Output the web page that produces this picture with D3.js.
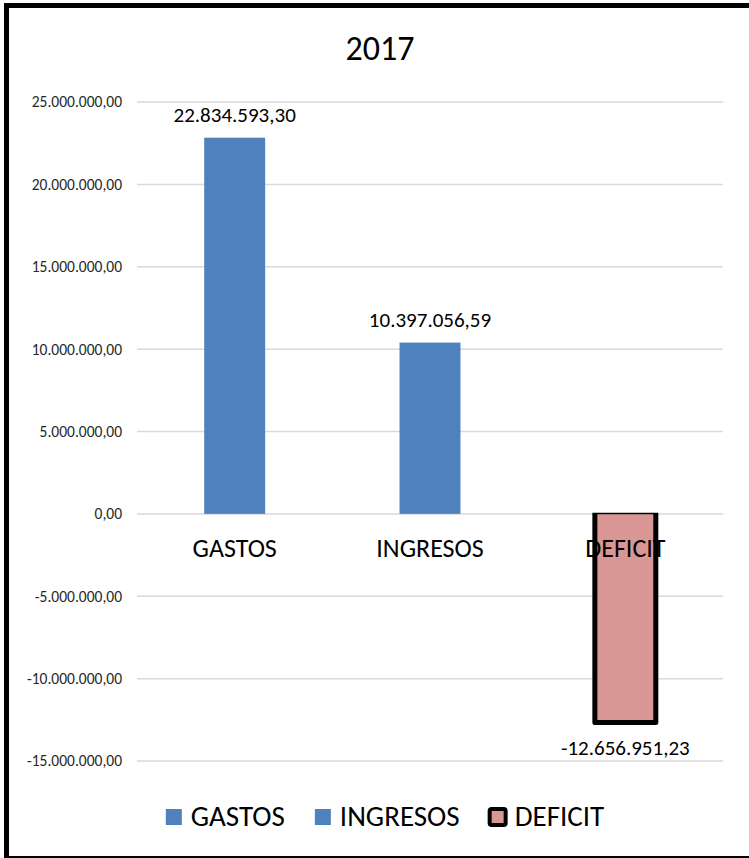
<!DOCTYPE html>
<html>
<head>
<meta charset="utf-8">
<script src="https://cdn.jsdelivr.net/npm/d3@7"></script>
<style>
  body { margin:0; background:#fff; }
  text { font-family: Carlito, Calibri, Lato, sans-serif; }
</style>
</head>
<body>
<svg id="chart" width="749" height="858"></svg>
<script>
// data
var categories=["GASTOS","INGRESOS","DEFICIT"];
var values=[22834593.30, 10397056.59, -12656951.23];
var barColors=["#4F81BD","#4F81BD","#D99694"];
var yTicks=[25000000,20000000,15000000,10000000,5000000,0,-5000000,-10000000,-15000000];
var title="2017";

var locale=d3.formatLocale({decimal:",", thousands:".", grouping:[3], currency:["",""], minus:"-"});
var fmt=locale.format(",.2f");

var svg=d3.select("#chart");

// outer frame of the chart (runs off the right edge like the original)
svg.append("rect")
   .attr("x",6.5).attr("y",5.5)
   .attr("width",800).attr("height",853)
   .attr("fill","#fff")
   .attr("stroke","#000")
   .attr("stroke-width",5);

var y=d3.scaleLinear().domain([-15000000,25000000]).range([761,102]);
var x=d3.scaleBand().domain(categories).range([137,723])
        .paddingInner(0.688).paddingOuter(0.344);

svg.append("text")
   .attr("x",380).attr("y",60)
   .attr("text-anchor","middle")
   .attr("font-size",34)
   .attr("fill","#000")
   .text(title);

// gridlines
svg.append("g").selectAll("line").data(yTicks).enter().append("line")
   .attr("x1",137).attr("x2",723)
   .attr("y1",function(d){return y(d);})
   .attr("y2",function(d){return y(d);})
   .attr("stroke","#D9D9D9")
   .attr("stroke-width",1.5);

// y axis labels
var yAxis=d3.axisLeft(y).tickValues(yTicks).tickFormat(fmt).tickSize(0).tickPadding(0);
var gy=svg.append("g").attr("transform","translate(122,0)").call(yAxis);
gy.select(".domain").remove();
gy.selectAll("text")
  .attr("font-size",15.5)
  .attr("fill","#262626")
  .style("font-family","Carlito, Calibri, Lato, sans-serif");

// bars
var bars=categories.map(function(c,i){ return {cat:c, val:values[i], color:barColors[i]}; });

svg.append("g").selectAll("rect").data(bars).enter().append("rect")
   .attr("x",function(d){return x(d.cat);})
   .attr("width",x.bandwidth())
   .attr("y",function(d){return y(Math.max(0,d.val));})
   .attr("height",function(d){return Math.abs(y(d.val)-y(0));})
   .attr("fill",function(d){return d.color;});

// black outline of the deficit bar (thin at the zero line)
var def=bars[2];
var dx0=x(def.cat), dx1=x(def.cat)+x.bandwidth();
svg.append("path")
   .attr("d","M"+dx0+","+y(0)+"L"+dx0+","+y(def.val)+"L"+dx1+","+y(def.val)+"L"+dx1+","+y(0))
   .attr("fill","none")
   .attr("stroke","#000")
   .attr("stroke-width",5)
   .attr("stroke-linejoin","round");
svg.append("line")
   .attr("x1",dx0-2.5).attr("x2",dx1+2.5)
   .attr("y1",y(0)-0.5).attr("y2",y(0)-0.5)
   .attr("stroke","#000").attr("stroke-width",1.5);

// category labels
svg.append("g").selectAll("text").data(categories).enter().append("text")
   .attr("x",function(d){return x(d)+x.bandwidth()/2;})
   .attr("y",557)
   .attr("text-anchor","middle")
   .attr("font-size",26)
   .attr("fill","#000")
   .text(function(d){return d;});

// value labels
svg.append("g").selectAll("text").data(bars).enter().append("text")
   .attr("x",function(d){return x(d.cat)+x.bandwidth()/2;})
   .attr("y",function(d){ return d.val>=0 ? y(d.val)-16 : y(d.val)+33; })
   .attr("text-anchor","middle")
   .attr("font-size",21)
   .attr("fill","#000")
   .text(function(d){return fmt(d.val);});

// legend
var legend=svg.append("g");
var items=legend.selectAll("g").data(bars).enter().append("g");
items.append("rect")
   .attr("width",16).attr("height",16)
   .attr("y",809)
   .attr("rx",function(d,i){return i==2?2:0;})
   .attr("fill",function(d){return d.color;})
   .attr("stroke",function(d,i){return i==2?"#000":"none";})
   .attr("stroke-width",4);
items.append("text")
   .attr("y",826)
   .attr("font-size",29)
   .attr("fill","#000")
   .text(function(d){return d.cat;});

var gap=30, off=25, widths=[];
items.each(function(){ widths.push(d3.select(this).select("text").node().getComputedTextLength()); });
var total=d3.sum(widths)+off*widths.length+gap*(widths.length-1);
var start=385-total/2;
items.each(function(d,i){
  var px=start;
  for(var k=0;k<i;k++) px+=off+widths[k]+gap;
  d3.select(this).select("rect").attr("x",px);
  d3.select(this).select("text").attr("x",px+off);
});
</script>
</body>
</html>
